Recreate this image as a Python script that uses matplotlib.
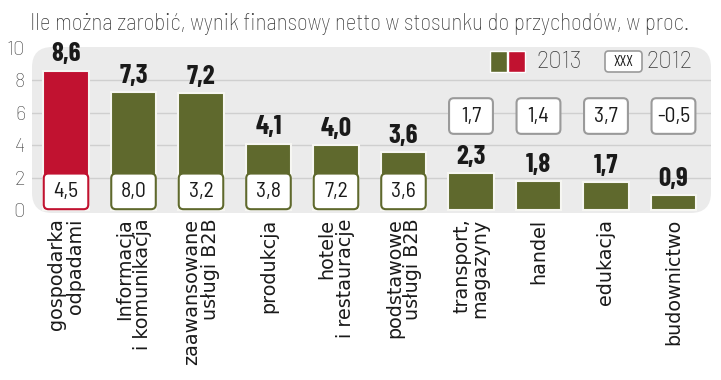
import matplotlib

matplotlib.use("Agg")

import matplotlib.pyplot as plt
from matplotlib.patches import FancyBboxPatch, Rectangle

# data
categories = [
    "gospodarka\nodpadami",
    "Informacja\ni komunikacja",
    "zaawansowane\nusługi B2B",
    "produkcja",
    "hotele\ni restauracje",
    "podstawowe\nusługi B2B",
    "transport,\nmagazyny",
    "handel",
    "edukacja",
    "budownictwo",
]
values_2013 = [8.6, 7.3, 7.2, 4.1, 4.0, 3.6, 2.3, 1.8, 1.7, 0.9]
values_2012 = [4.5, 8.0, 3.2, 3.8, 7.2, 3.6, 1.7, 1.4, 3.7, -0.5]
yticks = [0, 2, 4, 6, 8, 10]

OLIVE = "#5f692d"
RED = "#c11230"
COND = ["Barlow Condensed", "DejaVu Sans"]
SEMI = ["Barlow Semi Condensed", "Barlow Condensed", "DejaVu Sans"]
WIDE = ["Barlow", "Barlow Semi Condensed", "DejaVu Sans"]
LABEL = ["DejaVu Sans"]

W, H = 721, 380


def fx(px):
    return px / W


def fy(py):
    return 1 - py / H


fig = plt.figure(figsize=(W / 100, H / 100), dpi=100)
fig.patch.set_facecolor("white")
ax = fig.add_axes([fx(32), fy(213), 679 / W, 166 / H])
ax.set_facecolor("none")
for s in ax.spines.values():
    s.set_visible(False)

# rounded grey panel behind the plot
panel = FancyBboxPatch((0, 0), 1, 1, boxstyle="round,pad=0,rounding_size=0.03",
                       mutation_aspect=679 / 166, transform=ax.transAxes,
                       facecolor="#ebebeb", edgecolor="none", zorder=0, clip_on=False)
ax.add_patch(panel)

ax.set_xlim(-0.504, 9.556)
ax.set_ylim(-0.185, 10.06)
for g in [2, 4, 6, 8]:
    ax.axhline(g, color="#cfcfcf", lw=1.0, zorder=1)

x = list(range(len(categories)))
colors = [RED] + [OLIVE] * (len(categories) - 1)
bw = 0.68
ax.bar(x, values_2013, width=bw, color=colors, edgecolor="#f6f6f2", linewidth=1.5, zorder=2)

asp = 67.5 / 16.2
for i, (v13, v12) in enumerate(zip(values_2013, values_2012)):
    ax.annotate(f"{v13:.1f}".replace(".", ","), (i, v13), xytext=(0, 3),
                textcoords="offset points", ha="center", va="bottom",
                fontsize=19.5, fontweight="bold", family=COND, color="#1a1a1a", zorder=5)
    # 2012 value box: at the bar foot for tall bars, floating above for short ones
    if v13 >= 3:
        y0, h, bwid, ec = 0.05, 2.2, bw - 0.02, colors[i]
    else:
        y0, h, bwid, ec = 4.7, 2.2, 0.65, "#9a9a9a"
    box = FancyBboxPatch((i - bwid / 2, y0), bwid, h,
                         boxstyle="round,pad=0,rounding_size=0.07", mutation_aspect=asp,
                         facecolor="white", edgecolor=ec, lw=1.5, zorder=3)
    ax.add_patch(box)
    ax.text(i, y0 + h / 2, f"{v12:.1f}".replace(".", ","), ha="center", va="center",
            fontsize=15.5, family=SEMI, color="#1a1a1a", zorder=4)

ax.set_yticks(yticks)
ax.set_yticklabels([str(t) for t in yticks], fontsize=14.5, family=WIDE, fontweight="light",
                   color="#444444")
ax.set_xticks(x)
ax.set_xticklabels(categories, rotation=90, fontsize=13.8, family=LABEL, color="#1a1a1a",
                   multialignment="right", linespacing=0.95)
ax.tick_params(axis="both", length=0)
ax.tick_params(axis="y", pad=5)
ax.tick_params(axis="x", pad=4)

fig.text(fx(30), fy(24), "Ile można zarobić, wynik finansowy netto w stosunku do przychodów, w proc.",
         fontsize=16.5, family=SEMI, fontweight="light", color="#3a3a3a", va="center", ha="left")

# legend
fig.add_artist(Rectangle((fx(490), fy(72)), 17 / W, 21 / H, transform=fig.transFigure,
                         facecolor=OLIVE, edgecolor="white", lw=1))
fig.add_artist(Rectangle((fx(508), fy(72)), 17 / W, 21 / H, transform=fig.transFigure,
                         facecolor=RED, edgecolor="white", lw=1))
fig.text(fx(536), fy(62), "2013", fontsize=17, family=WIDE, fontweight="light",
         color="#3a3a3a", va="center")
fig.add_artist(FancyBboxPatch((fx(605), fy(72)), 37 / W, 21 / H,
                              boxstyle="round,pad=0,rounding_size=0.005",
                              mutation_aspect=W / H, transform=fig.transFigure,
                              facecolor="white", edgecolor="#9a9a9a", lw=1.2))
fig.text(fx(623.5), fy(62), "XXX", fontsize=11, family=COND, color="#1a1a1a",
         va="center", ha="center")
fig.text(fx(646), fy(62), "2012", fontsize=17, family=WIDE, fontweight="light",
         color="#3a3a3a", va="center")

fig.savefig("out.png", dpi=100, facecolor="white")
